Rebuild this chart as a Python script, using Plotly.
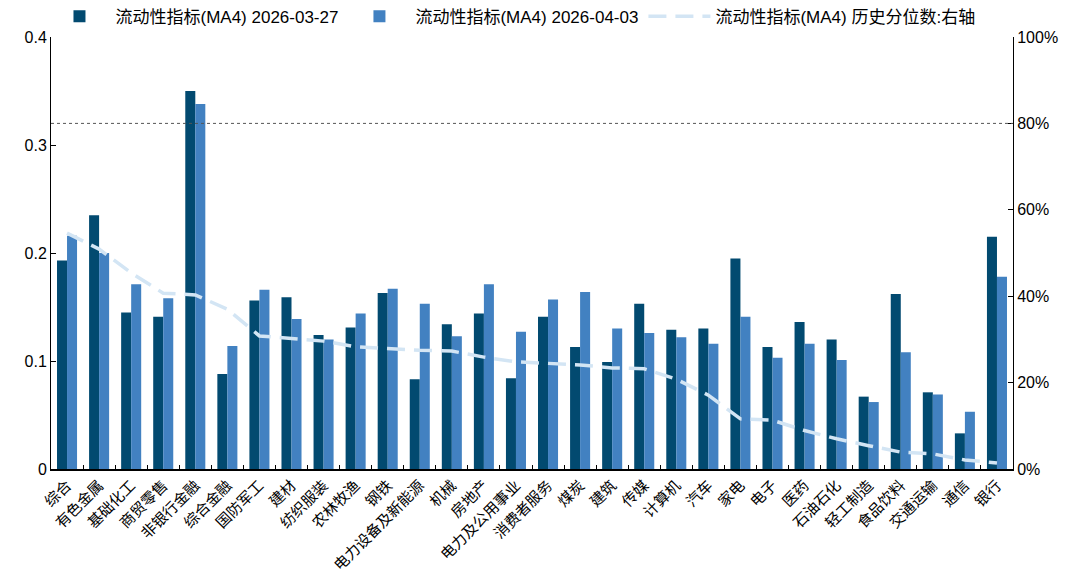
import plotly.graph_objects as go

categories = ["综合", "有色金属", "基础化工", "商贸零售", "非银行金融", "综合金融", "国防军工", "建材",
              "纺织服装", "农林牧渔", "钢铁", "电力设备及新能源", "机械", "房地产", "电力及公用事业",
              "消费者服务", "煤炭", "建筑", "传媒", "计算机", "汽车", "家电", "电子", "医药",
              "石油石化", "轻工制造", "食品饮料", "交通运输", "通信", "银行"]

ma4_0327 = [0.193, 0.235, 0.145, 0.141, 0.350, 0.088, 0.156, 0.159, 0.124, 0.131,
            0.163, 0.083, 0.134, 0.144, 0.084, 0.141, 0.113, 0.099, 0.153, 0.129,
            0.130, 0.195, 0.113, 0.136, 0.120, 0.067, 0.162, 0.071, 0.033, 0.215]

ma4_0403 = [0.216, 0.200, 0.171, 0.158, 0.338, 0.114, 0.166, 0.139, 0.120, 0.144,
            0.167, 0.153, 0.123, 0.171, 0.127, 0.157, 0.164, 0.130, 0.126, 0.122,
            0.116, 0.141, 0.103, 0.116, 0.101, 0.062, 0.108, 0.069, 0.053, 0.178]

hist_pct = [0.546, 0.509, 0.454, 0.407, 0.403, 0.370, 0.308, 0.301, 0.296, 0.283,
            0.278, 0.275, 0.273, 0.259, 0.248, 0.244, 0.241, 0.234, 0.232, 0.208,
            0.171, 0.116, 0.113, 0.089, 0.070, 0.054, 0.039, 0.035, 0.021, 0.014]

ref_level = 0.8

latin = "Liberation Sans, Arial, Noto Sans CJK SC, sans-serif"

fig = go.Figure()
fig.add_trace(go.Bar(x=categories, y=ma4_0327, name="流动性指标(MA4) 2026-03-27",
                     marker=dict(color="#024a70", line=dict(width=0))))
fig.add_trace(go.Bar(x=categories, y=ma4_0403, name="流动性指标(MA4) 2026-04-03",
                     marker=dict(color="#4281c1", line=dict(width=0))))
fig.add_trace(go.Scatter(x=categories, y=hist_pct, name="流动性指标(MA4) 历史分位数:右轴",
                         yaxis="y2", mode="lines",
                         line=dict(color="#d3e5f4", width=3.5, dash="18px,9px")))

fig.add_shape(type="line", xref="paper", yref="y2", x0=0, x1=1, y0=ref_level, y1=ref_level,
              line=dict(color="#555555", width=1, dash="3px,3px"))

fig.update_layout(
    width=1075, height=578,
    margin=dict(l=43, r=70, t=29, b=117, autoexpand=False),
    paper_bgcolor="white", plot_bgcolor="white",
    barmode="group", bargap=0.375, bargroupgap=0,
    font=dict(family=latin, size=16, color="#000000"),
    legend=dict(orientation="h", xref="container", x=0.033, xanchor="left",
                yref="container", y=0.985, yanchor="middle",
                font=dict(size=17, family=latin), itemwidth=62,
                bgcolor="rgba(0,0,0,0)", tracegroupgap=0),
    xaxis=dict(type="category", showline=True, linecolor="#000000", linewidth=1.5,
               ticks="inside", ticklen=4, tickcolor="#000000", tickson="boundaries",
               tickangle=-45, tickfont=dict(size=15, family="Noto Sans CJK SC"),
               showgrid=False, mirror=False, automargin=False),
    yaxis=dict(range=[0, 0.4], tickvals=[0, 0.1, 0.2, 0.3, 0.4],
               ticktext=["0", "0.1", "0.2", "0.3", "0.4"],
               showline=True, linecolor="#000000", linewidth=1,
               ticks="inside", ticklen=5, tickcolor="#000000", showgrid=False,
               zeroline=False, tickfont=dict(size=16), automargin=False),
    yaxis2=dict(range=[0, 1], overlaying="y", side="right", tickformat=".0%", dtick=0.2,
                showline=True, linecolor="#000000", linewidth=1,
                ticks="inside", ticklen=5, tickcolor="#000000", showgrid=False,
                zeroline=False, tickfont=dict(size=16), automargin=False),
)

fig.write_html("out.html")
